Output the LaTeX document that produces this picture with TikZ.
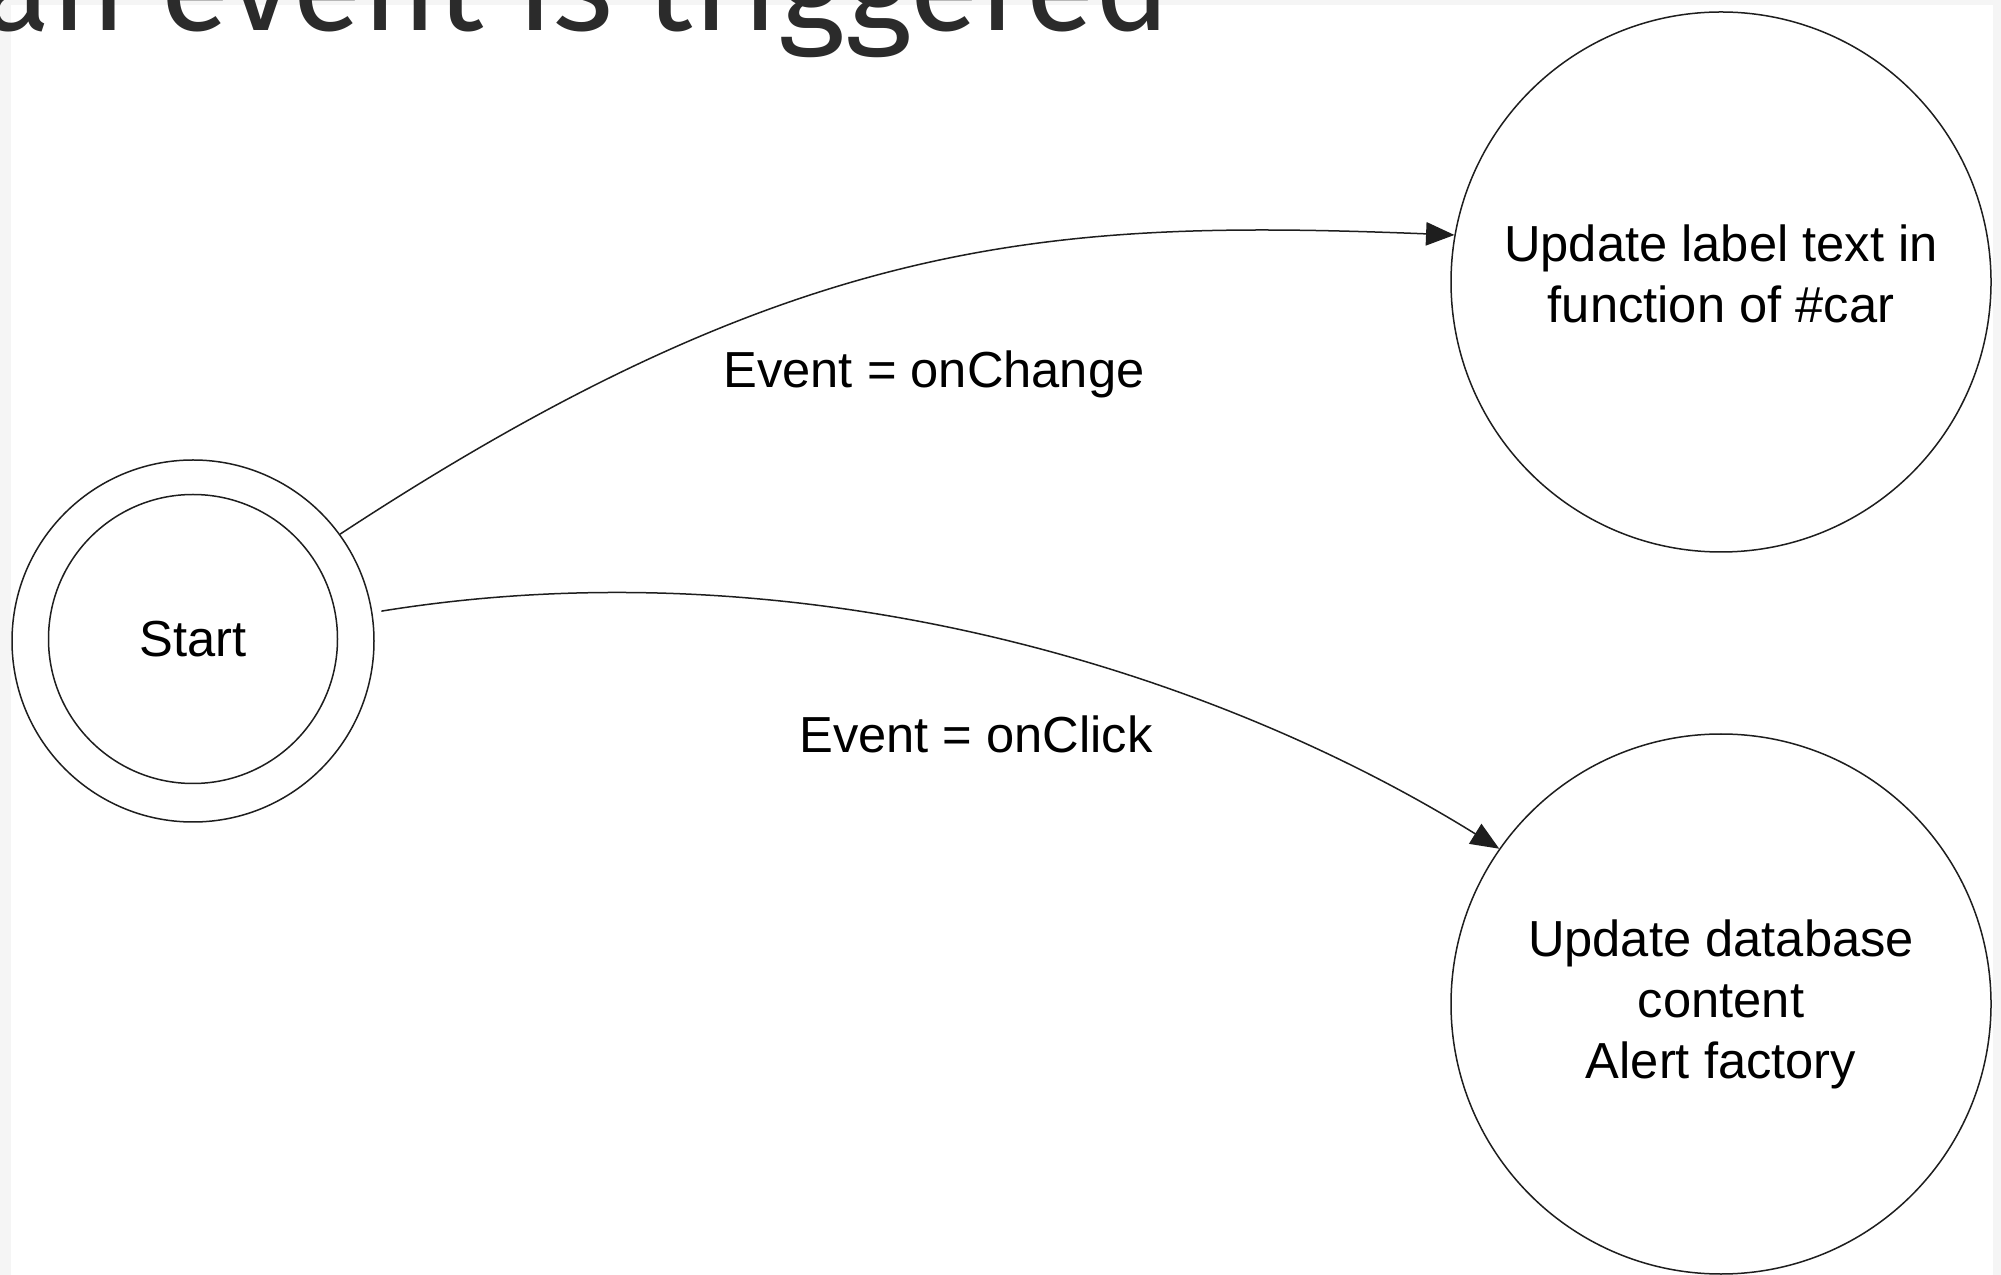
\documentclass[tikz,border=0pt]{standalone}
\usepackage{fontspec}
\setmainfont{Liberation Sans}
\newfontfamily\titlefont{Fira Sans}
\usetikzlibrary{arrows.meta}
\definecolor{bggray}{HTML}{F5F5F5}
\definecolor{titlegray}{HTML}{2B2B2B}
\definecolor{linecol}{HTML}{1E1E1E}
\begin{document}
\begin{tikzpicture}[x=0.3pt,y=-0.3pt,
  state/.style={circle,draw=linecol,line width=0.45pt,minimum size=162pt,inner sep=0pt,
    align=center,font=\fontsize{15.2}{18.3}\selectfont,text=black},
  startin/.style={circle,draw=linecol,line width=0.45pt,minimum size=86.7pt,inner sep=0pt,
    font=\fontsize{15.2}{18.3}\selectfont,text=black},
  startout/.style={circle,draw=linecol,line width=0.45pt,minimum size=108.6pt,inner sep=0pt},
  trans/.style={draw=linecol,line width=0.45pt,-{Triangle[length=8.5pt,width=7pt]}},
  evlabel/.style={font=\fontsize{15.2}{18.3}\selectfont,text=black,inner sep=0pt},
  titletext/.style={font=\titlefont\fontsize{38.4}{40}\selectfont,text=titlegray,inner sep=0pt}]
\useasboundingbox (0,0) rectangle (2001,1275);
\clip (0,0) rectangle (2001,1275);
\fill[bggray] (0,0) rectangle (2001,1275);
\fill[white] (11,5) rectangle (1993,1280);
\node[titletext,anchor=base east] (title) at (1172,31) {an event is triggered};

\node[startout] (sout) at (193,641) {};
\node[startin] (start) at (193,639) {Start};
\node[state,text depth=4.8pt] (upd) at (1721,282) {Update label text in\\function of \#car};
\node[state] (db) at (1721,1004) {Update database\\content\\Alert factory};

\draw[trans] (sout.36.7) .. controls (799,233) and (1052,219) .. (upd.170.9);
\draw[trans,shorten <=2.7pt] (sout.9.4) .. controls (790,545) and (1200,663) .. (db.145.3);

\node[evlabel] (l1) at (934,374) {Event = onChange};
\node[evlabel] (l2) at (976,734) {Event = onClick};
\end{tikzpicture}
\end{document}
